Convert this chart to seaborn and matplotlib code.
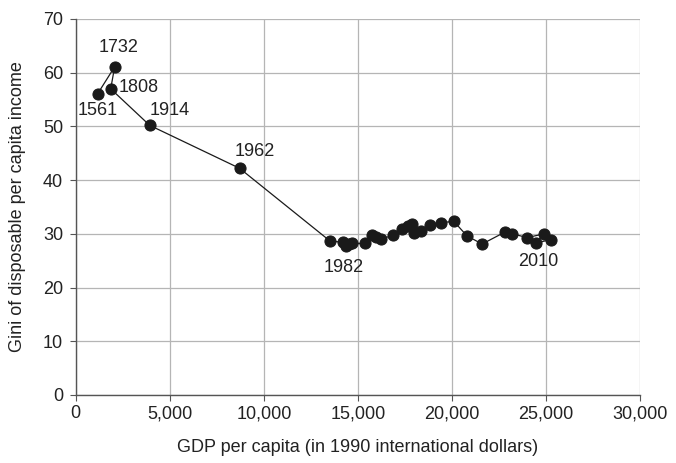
import matplotlib
matplotlib.use("Agg")
import matplotlib.pyplot as plt
import seaborn as sns
import pandas as pd
from matplotlib.ticker import FuncFormatter

# GDP per capita (1990 intl $) and Gini, in chronological order
gdp = [1170, 2070, 1860, 3930, 8710,
       13500, 14200, 14350, 14500, 14700, 15400, 15750, 15950, 16200,
       16850, 17350, 17650, 17850, 18000, 18350, 18850, 19400, 20100,
       20800, 21600, 22800, 23200, 24000, 24900, 24450, 25250]
gini = [56.1, 61.1, 57.0, 50.2, 42.2,
        28.7, 28.4, 27.8, 28.1, 28.2, 28.2, 29.8, 29.4, 29.0,
        29.7, 30.9, 31.4, 31.9, 30.1, 30.6, 31.7, 32.1, 32.3,
        29.6, 28.1, 30.3, 30.0, 29.3, 30.0, 28.3, 28.9]

# year labels: (text, x, y, ha)
labels = [("1732", 2290, 64.6, "center"),
          ("1561", 1170, 52.9, "center"),
          ("1808", 2290, 57.2, "left"),
          ("1914", 5000, 52.9, "center"),
          ("1962", 9520, 45.3, "center"),
          ("1982", 14260, 23.8, "center"),
          ("2010", 24600, 24.8, "center")]

df = pd.DataFrame({"gdp": gdp, "gini": gini})

sns.set_style("ticks")
plt.rcParams["font.family"] = ["Liberation Sans", "DejaVu Sans"]
FS = 13

fig = plt.figure(figsize=(6.76, 4.63), dpi=100)
ax = fig.add_axes([0.112, 0.147, 0.835, 0.812])

sns.lineplot(data=df, x="gdp", y="gini", sort=False, estimator=None,
             color="#1a1a1a", linewidth=0.9, marker="o", markersize=8,
             markeredgecolor="#1a1a1a", ax=ax)

for text, x, y, ha in labels:
    ax.text(x, y, text, ha=ha, va="center", fontsize=FS, color="#222222")

ax.set_xlim(0, 30000)
ax.set_ylim(0, 70)
ax.set_xticks(range(0, 30001, 5000))
ax.set_yticks(range(0, 71, 10))
ax.xaxis.set_major_formatter(FuncFormatter(lambda v, p: f"{int(v):,}"))
ax.grid(True, color="#b5b5b5", linewidth=0.9)
ax.set_axisbelow(True)

for s in ["top", "right"]:
    ax.spines[s].set_visible(False)
for s in ["left", "bottom"]:
    ax.spines[s].set_color("#555555")
    ax.spines[s].set_linewidth(1.0)

ax.tick_params(labelsize=FS, colors="#222222", length=4, color="#555555")
ax.tick_params(axis="y", pad=5)
ax.set_xlabel("GDP per capita (in 1990 international dollars)", fontsize=FS,
              color="#222222", labelpad=12)
ax.set_ylabel("Gini of disposable per capita income", fontsize=FS,
              color="#222222", labelpad=12)

fig.savefig("out.png", dpi=100)
